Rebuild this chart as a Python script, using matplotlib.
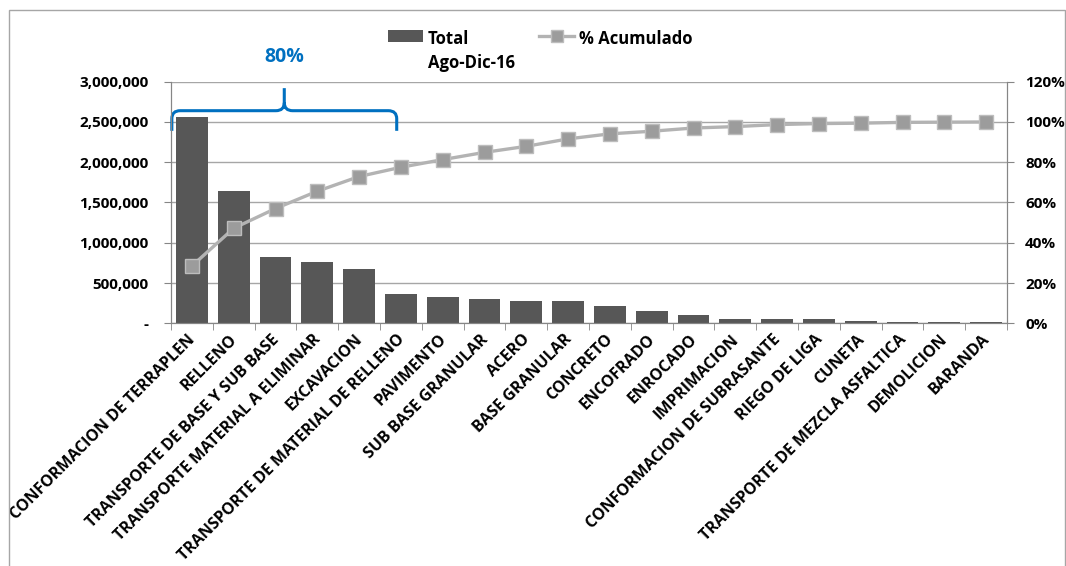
import matplotlib
matplotlib.use("Agg")
import numpy as np
import matplotlib.pyplot as plt
from matplotlib.path import Path
from matplotlib.patches import PathPatch, Rectangle, Patch
from matplotlib.lines import Line2D
from matplotlib.ticker import FuncFormatter, MultipleLocator
from matplotlib.transforms import ScaledTranslation

# data
categories = [
    "CONFORMACION DE TERRAPLEN", "RELLENO", "TRANSPORTE DE BASE Y SUB BASE",
    "TRANSPORTE MATERIAL A ELIMINAR", "EXCAVACION", "TRANSPORTE DE MATERIAL DE RELLENO",
    "PAVIMENTO", "SUB BASE GRANULAR", "ACERO", "BASE GRANULAR", "CONCRETO",
    "ENCOFRADO", "ENROCADO", "IMPRIMACION", "CONFORMACION DE SUBRASANTE",
    "RIEGO DE LIGA", "CUNETA", "TRANSPORTE DE MEZCLA ASFALTICA", "DEMOLICION", "BARANDA",
]
totals = [2560000, 1640000, 822000, 756000, 670000, 360000, 322000, 298000,
          273000, 273000, 211000, 149000, 99000, 50000, 50000, 50000,
          25000, 12000, 12000, 12000]
pct_acum = [28.5, 47.2, 57.0, 65.6, 72.9, 77.5, 81.3, 84.9, 87.9, 91.6,
            94.1, 95.4, 97.0, 97.7, 98.7, 99.2, 99.4, 99.8, 99.9, 100.0]
bar_label = "Total\nAgo-Dic-16"
line_label = "% Acumulado"
bracket_label = "80%"

plt.rcParams['font.family'] = ['Open Sans', 'DejaVu Sans']
plt.rcParams['font.weight'] = 'bold'

BLUE = '#0070C0'
GRID = '#a6a6a6'

fig = plt.figure(figsize=(10.66, 5.66), dpi=100)
ax = fig.add_axes([171 / 1066, 1 - 323.3 / 566, (1007 - 171) / 1066, (323.3 - 81.7) / 566])

x = np.arange(len(categories))
ax.bar(x, totals, width=0.76, color='#575757', zorder=2)

ax.set_xlim(-0.5, len(categories) - 0.5)
ax.set_ylim(0, 3000000)
ax.yaxis.set_major_locator(MultipleLocator(500000))
ax.yaxis.set_major_formatter(FuncFormatter(lambda v, p: '-' if v == 0 else '{:,.0f}'.format(v)))
ax.grid(axis='y', color=GRID, linewidth=1)
ax.set_axisbelow(True)

ax.set_xticks(x)
ax.set_xticklabels(categories, rotation=45, ha='right', va='center',
                   rotation_mode='anchor', fontsize=11.5, fontweight='bold')
ax.tick_params(axis='x', which='major', length=0, pad=10)
ax.set_xticks(np.arange(len(categories) + 1) - 0.5, minor=True)
ax.tick_params(axis='x', which='minor', length=5, color='#868686')
ax.tick_params(axis='y', length=5, color='#868686', labelsize=11, pad=11)
# small horizontal nudge of the rotated labels
for lab in ax.get_xticklabels():
    lab.set_transform(lab.get_transform() + ScaledTranslation(1 / 100, 0, fig.dpi_scale_trans))

ax.spines['top'].set_visible(False)
for s in ['left', 'right', 'bottom']:
    ax.spines[s].set_color('#868686')

ax2 = ax.twinx()
ax2.plot(x, pct_acum, color='#b3b3b3', linewidth=2.4, marker='s', markersize=10,
         markerfacecolor='#9c9c9c', markeredgecolor='#bdbdbd', markeredgewidth=1, zorder=3)
ax2.set_ylim(0, 120)
ax2.yaxis.set_major_locator(MultipleLocator(20))
ax2.yaxis.set_major_formatter(FuncFormatter(lambda v, p: '{:.0f}%'.format(v)))
ax2.tick_params(axis='y', length=5, color='#868686', labelsize=11, pad=8)
ax2.spines['top'].set_visible(False)
for s in ['left', 'right', 'bottom']:
    ax2.spines[s].set_color('#868686')

# curly bracket over the first bars
x0, x1 = -0.48, 4.9
xm = (x0 + x1) / 2
y_end, y_flat, y_tip = 2390000, 2640000, 2920000
rx, ry = 0.2, 100000
verts = [
    (x0, y_end), (x0, y_flat - ry), (x0, y_flat), (x0 + rx, y_flat),
    (xm - rx, y_flat), (xm, y_flat), (xm, y_flat + ry), (xm, y_tip),
    (xm, y_flat + ry), (xm, y_flat), (xm + rx, y_flat),
    (x1 - rx, y_flat), (x1, y_flat), (x1, y_flat - ry), (x1, y_end),
]
codes = [Path.MOVETO, Path.LINETO, Path.CURVE3, Path.CURVE3,
         Path.LINETO, Path.CURVE3, Path.CURVE3, Path.LINETO,
         Path.MOVETO, Path.CURVE3, Path.CURVE3,
         Path.LINETO, Path.CURVE3, Path.CURVE3, Path.LINETO]
brace = PathPatch(Path(verts, codes), facecolor='none', edgecolor=BLUE,
                  linewidth=2.2, clip_on=False, zorder=5)
ax.add_patch(brace)
ax.text(xm, 3310000, bracket_label, color=BLUE, fontsize=14, fontweight='bold',
        ha='center', va='center', clip_on=False)

# legend
handles = [Patch(facecolor='#575757'),
           Line2D([], [], color='#b3b3b3', linewidth=2.4, marker='s', markersize=9,
                  markerfacecolor='#9c9c9c', markeredgecolor='#bdbdbd')]
leg = fig.legend(handles, [bar_label, line_label], loc='upper left',
                 bbox_to_anchor=(388 / 1066, 1 - 30 / 566), ncol=2, frameon=False,
                 fontsize=12, handlelength=2.1, handletextpad=0.3, columnspacing=1.45,
                 borderpad=0, borderaxespad=0)
for t in leg.get_texts():
    t.set_linespacing(1.45)
leg._legend_handle_box.align = 'top'
for col in leg._legend_handle_box.get_children():
    col.align = 'top'
    for item in col.get_children():
        item.align = 'top'

# chart frame
fig.add_artist(Rectangle((9 / 1066, -0.05), (1065 - 9) / 1066, 1.05 - 10 / 566,
                         transform=fig.transFigure, fill=False,
                         edgecolor='#a6a6a6', linewidth=1))

plt.savefig('out.png', dpi=100)
